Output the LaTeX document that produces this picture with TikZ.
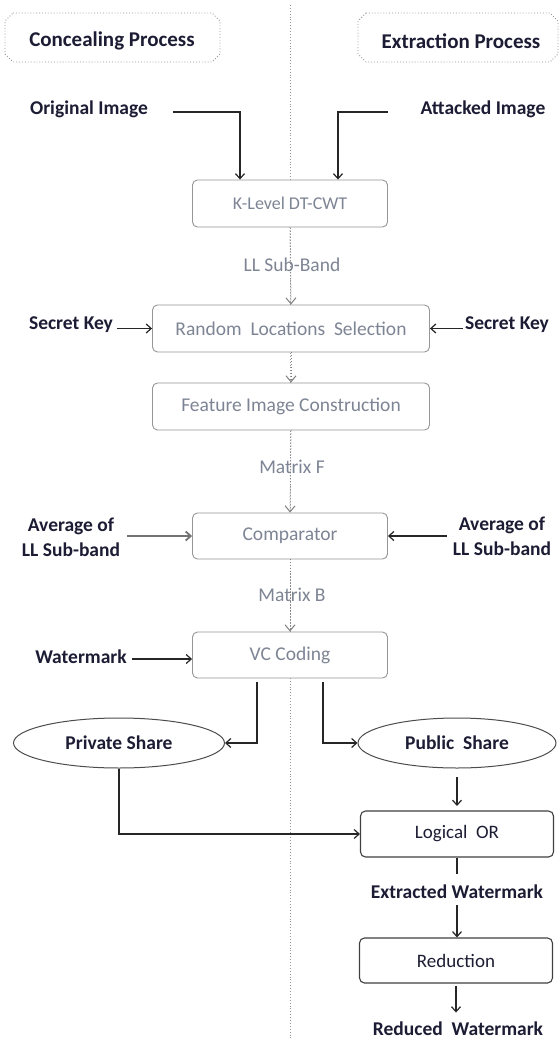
\documentclass[tikz,border=0pt]{standalone}
\usepackage{fontspec}
\setmainfont{Carlito}
\usetikzlibrary{arrows.meta,shapes.geometric,calc}
\definecolor{boxtext}{RGB}{125,132,148}
\definecolor{darktext}{RGB}{28,28,52}
\definecolor{boxline}{RGB}{150,150,150}
\begin{document}
\begin{tikzpicture}[x=1pt,y=-1pt,
  graybox/.style={draw=boxline, rounded corners=5pt, fill=white, line width=0.9pt, text=boxtext, inner sep=0pt, font=\fontsize{19.5}{22}\selectfont},
  darkbox/.style={draw=black!75, rounded corners=5pt, fill=white, line width=1.1pt, text=darktext, inner sep=0pt, font=\fontsize{19}{22}\selectfont},
  shareell/.style={ellipse, draw=black!70, fill=white, line width=1pt, text=darktext, inner sep=0pt, font=\bfseries\fontsize{19.5}{22}\selectfont},
  lbl/.style={text=darktext, inner sep=0pt, align=center, font=\bfseries\fontsize{19.5}{25}\selectfont},
  mid/.style={text=boxtext, inner sep=0pt, font=\fontsize{19.5}{22}\selectfont},
  hdr/.style={text=darktext, inner sep=0pt, font=\bfseries\fontsize{21}{24}\selectfont},
  hdrframe/.style={draw=boxline, dotted, line width=0.9pt},
  arr/.style={-{Straight Barb[length=5pt,width=9pt]}, line width=1.2pt, black!85},
  grayarr/.style={-{Straight Barb[length=5pt,width=9pt]}, line width=1.8pt, black!55},
  darr/.style={dotted, black!50, line width=1pt, -{Straight Barb[length=6pt,width=10pt,line width=1pt]}},
  plain/.style={line width=1.2pt, black!85},
]
\useasboundingbox (0,0) rectangle (559,1040);
\fill[white] (0,0) rectangle (559,1040);

% centre dividing line
\coordinate (ctop) at (290,5);
\coordinate (cbot) at (290,1040);
\draw[dotted, boxline, line width=0.9pt] (ctop) -- (cbot);

% headers
\node[hdr] (h1) at (112,41) {Concealing Process};
\node[hdr] (h2) at (461,41) {Extraction Process};
\coordinate (h1a) at (5,13);  \coordinate (h1b) at (220,62);
\coordinate (h2a) at (358,13); \coordinate (h2b) at (558,62);
\draw[hdrframe] ($(h1a)+(8,0)$) -- ($(h1b|-h1a)+(-8,0)$) -- ($(h1b|-h1a)+(0,8)$) -- ($(h1b)+(0,-8)$) -- ($(h1b)+(-8,0)$) -- ($(h1a|-h1b)+(8,0)$) -- ($(h1a|-h1b)+(0,-8)$) -- ($(h1a)+(0,8)$) -- cycle;
\draw[hdrframe] ($(h2a)+(8,0)$) -- ($(h2b|-h2a)+(-8,0)$) -- ($(h2b|-h2a)+(0,8)$) -- ($(h2b)+(0,-8)$) -- ($(h2b)+(-8,0)$) -- ($(h2a|-h2b)+(8,0)$) -- ($(h2a|-h2b)+(0,-8)$) -- ($(h2a)+(0,8)$) -- cycle;

% central boxes
\node[graybox, minimum width=195pt, minimum height=47pt, font=\fontsize{18}{21}\selectfont] (kl) at (290,203.5) {K-Level DT-CWT};
\node[graybox, minimum width=277pt, minimum height=47pt] (rl) at (291,328.5) {Random\ \ Locations\ \ Selection};
\node[graybox, minimum width=277pt, minimum height=47pt] (fi) at (291,406.5) {Feature Image Construction};
\node[graybox, minimum width=195pt, minimum height=46pt] (cp) at (290,536) {Comparator};
\node[graybox, minimum width=195pt, minimum height=46pt] (vc) at (290,655) {VC Coding};

% mid labels
\node[mid] (llsb) at (292,265) {LL Sub-Band};
\node[mid] (mf) at (292,467) {Matrix F};
\node[mid] (mb) at (292,595) {Matrix B};

% dotted flow
\draw[darr] (kl.south) -- (rl.north);
\draw[darr] (rl.south) -- (fi.north);
\draw[darr] (fi.south) -- (cp.north);
\draw[darr] (cp.south) -- (vc.north);

% inputs
\node[lbl] (oi) at (89,109) {Original Image};
\node[lbl] (ai) at (483,109) {Attacked Image};
\coordinate (oi0) at (173,112);
\coordinate (ai0) at (388,112);
\draw[arr] (oi0) -| ($(kl.north)+(-50,0)$);
\draw[arr] (ai0) -| ($(kl.north)+(48,0)$);

\node[lbl] (skl) at (71,325) {Secret Key};
\node[lbl] (skr) at (507,325) {Secret Key};
\coordinate (skl0) at (117,328.5);
\coordinate (skr0) at (463,328.5);
\draw[arr] (skl0) -- (rl.west);
\draw[arr] (skr0) -- (rl.east);

\node[lbl] (avl) at (71,537) {Average of\\LL Sub-band};
\node[lbl] (avr) at (502,536) {Average of\\LL Sub-band};
\coordinate (avl0) at (127,536);
\coordinate (avr0) at (447,536);
\draw[grayarr] (avl0) -- (cp.west);
\draw[arr] (avr0) -- (cp.east);

\node[lbl] (wm) at (81,657) {Watermark};
\coordinate (wm0) at (132,659);
\draw[arr] (wm0) -- (wm0 -| vc.west);

% shares
\node[shareell, minimum width=211pt, minimum height=50pt] (ps) at (119,743) {Private Share};
\node[shareell, minimum width=198pt, minimum height=50pt] (pu) at (457,743) {Public\ \ Share};
\coordinate (vcl) at (257,682);
\coordinate (vcr) at (323,682);
\draw[arr] (vcl) |- (ps.east);
\draw[arr] (vcr) |- (pu.west);

% extraction chain
\node[darkbox, minimum width=193pt, minimum height=46pt] (lo) at (457,834) {Logical\ \ OR};
\node[darkbox, minimum width=193pt, minimum height=45pt] (rd) at (456,960.5) {Reduction};
\node[lbl] (ew) at (457,892) {Extracted Watermark};
\node[lbl] (rw) at (458,1029) {Reduced\ \ Watermark};

\coordinate (pu0) at (457,777);
\draw[arr] (pu0) -- (pu0 |- 0,806);
\draw[arr] (ps.south) |- (lo.west);
\draw[plain] (lo.south) -- ++(0,16) coordinate (lo1);
\coordinate (ew0) at (457,905);
\draw[arr] (ew0) -- (ew0 |- rd.north);
\draw[arr] (rd.south) ++(0,2) coordinate (rd0) -- ++(0,27);
\end{tikzpicture}
\end{document}
